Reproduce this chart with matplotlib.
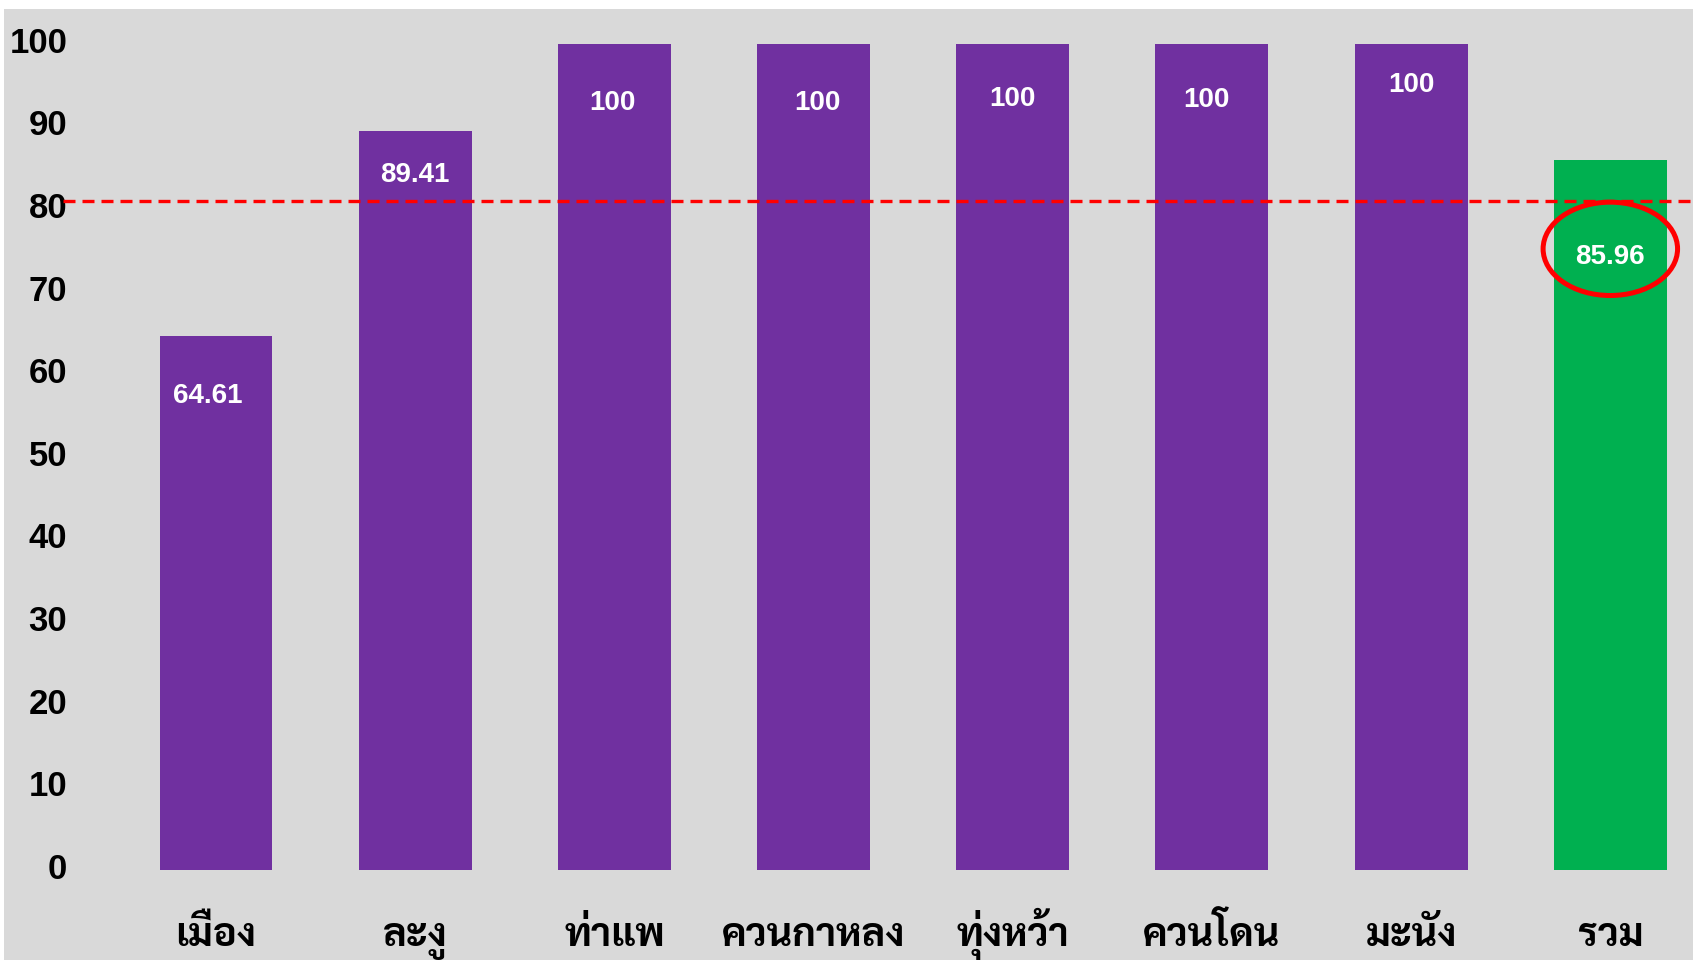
import matplotlib
matplotlib.use("Agg")
import matplotlib.pyplot as plt
from matplotlib.patches import Ellipse, Rectangle
import matplotlib.transforms as mtransforms

# ข้อมูลรายอำเภอ (ร้อยละ)
districts = ["เมือง", "ละงู", "ท่าแพ", "ควนกาหลง", "ทุ่งหว้า", "ควนโดน", "มะนัง", "รวม"]
values = [64.61, 89.41, 100, 100, 100, 100, 100, 85.96]
value_text = ["64.61", "89.41", "100", "100", "100", "100", "100", "85.96"]
target = 81
yticks = [0, 10, 20, 30, 40, 50, 60, 70, 80, 90, 100]

# ตำแหน่งตัวเลขเทียบกับยอดแท่ง (ลงมา, เลื่อนซ้ายขวา)
label_drop = [7.2, 5.3, 7.1, 7.1, 6.7, 6.8, 5.0, 11.7]
label_shift = [-0.04, 0.0, -0.01, 0.02, 0.0, -0.03, 0.0, 0.0]

purple = "#7030A0"
green = "#00B050"
bg = "#D9D9D9"
colors = [purple] * 7 + [green]

fig = plt.figure(figsize=(16.93, 9.6), dpi=100, facecolor="white")
fig.patches.append(Rectangle((4 / 1693, 0), 1, 951 / 960, transform=fig.transFigure,
                             facecolor=bg, edgecolor="none", zorder=-10))
ax = fig.add_axes([63 / 1693, 1 - 870 / 960, 1 - 63 / 1693, 826 / 960])
ax.set_facecolor("none")

x = list(range(len(districts)))
ax.bar(x, values, width=0.567, color=colors, zorder=2)
ax.set_xlim(-0.768, 7.415)
ax.set_ylim(0, 100)

ax.axhline(target, color="#FF0000", lw=2.4, ls=(0, (3.6, 2.1)), zorder=3)

for xi, v, t, d, s in zip(x, values, value_text, label_drop, label_shift):
    ax.text(xi + s, v - d, t, ha="center", va="center", color="white",
            fontsize=20, fontweight="bold", family="Liberation Sans", zorder=4)

ax.add_patch(Ellipse((7, 75.2), 0.675, 11.3, fill=False, edgecolor="#FF0000",
                     lw=3.6, zorder=5, clip_on=False))

ax.set_yticks(yticks)
ax.set_yticklabels([str(t) for t in yticks], fontsize=25, fontweight="bold",
                   family="Liberation Sans")
ax.tick_params(axis="y", length=0, pad=-3)
lift = mtransforms.ScaledTranslation(0, 3 / 72, fig.dpi_scale_trans)
for lab in ax.get_yticklabels():
    lab.set_transform(lab.get_transform() + lift)
ax.set_xticks([])

trans = mtransforms.blended_transform_factory(ax.transData, ax.transAxes)
for xi, name in zip(x, districts):
    ax.text(xi, -0.092, name, transform=trans, ha="center", va="baseline",
            fontsize=28.5, fontweight="bold", family="Sarabun")

for s in ax.spines.values():
    s.set_visible(False)

fig.savefig("out.png", dpi=100, facecolor="white")
